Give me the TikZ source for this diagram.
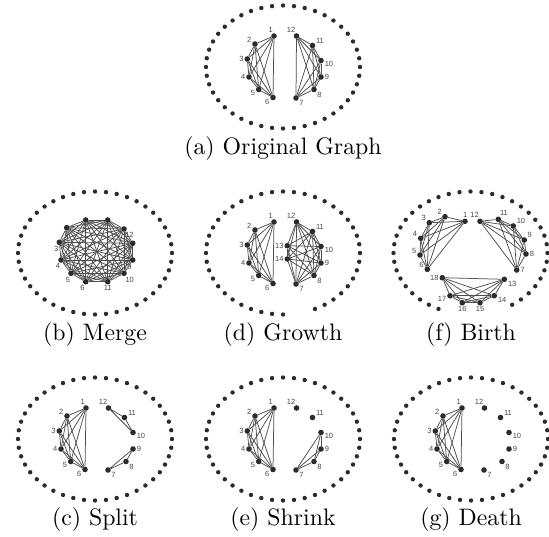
\documentclass[tikz,border=0pt]{standalone}
\usepackage{fontspec}
\usepackage{graphicx}
\newfontfamily\lblfont{Liberation Sans}
\pgfdeclarelayer{lbls}
\pgfdeclarelayer{edges}
\pgfsetlayers{lbls,edges,main}
\definecolor{dotc}{HTML}{2B2B2B}
\definecolor{edgec}{HTML}{4E4E4E}
\definecolor{lblc}{HTML}{474747}

\tikzset{
  vtx/.style={circle, fill=dotc, inner sep=0pt, minimum size=5.6pt},
  ghost/.style={circle, inner sep=0pt, minimum size=5.6pt},
  lbl/.style={font=\fontsize{7.5}{8}\lblfont, text=lblc, inner sep=0.6pt},
  edge/.style={draw=edgec, line width=0.75pt},
  captxt/.style={anchor=base, inner sep=0pt}
}

% ring of background points around one panel: centre x, centre y, indices kept
\newcommand\dotring[3]{%
  \foreach \k in {#3}{%
    \fill[dotc] ({#1+77*cos(90+\k*360/44)},{#2+61.5*sin(90+\k*360/44)}) circle (2.2pt);}}

% vertices of one panel: name prefix, list of label/x/y/label angle
\newcommand\vertices[2]{%
  \edef\vlist{#2}%
  \foreach \n/\x/\y/\a in \vlist {%
    \node[vtx] (#1\n) at (\x,\y) {};
    \begin{pgfonlayer}{lbls}
      \node[ghost, label={[lbl]\a:\n}] at (\x,\y) {};
    \end{pgfonlayer}}}

% complete graph on vertices #2..#4 of prefix #1 (#3 = #4-1)
\newcommand\cliq[4]{%
  \begin{pgfonlayer}{edges}
  \foreach \i in {#2,...,#3}{%
    \pgfmathtruncatemacro\nx{\i+1}%
    \foreach \j in {\nx,...,#4}{\draw[edge] (#1\i) -- (#1\j);}}
  \end{pgfonlayer}}

\newcommand\leftside{1/-9/-31/100, 2/-28/-23/166, 3/-35.7/-8/180, 4/-34/10/180,
  5/-24.3/22.5/187, 6/-10/30.5/195}
\newcommand\rightside{12/13.5/-31/97, 11/29.5/-21.5/20, 10/38/-6.5/355, 9/38/10/0,
  8/31/22.5/-35, 7/13/31/-30}

\begin{document}
\begin{tikzpicture}[x=1pt, y=-1pt]
\useasboundingbox (0,0) rectangle (549,536);

% (a) original graph
\dotring{283}{67}{0,...,43}
\begin{scope}[shift={(283,67)}]
  \vertices{a}{\leftside}
  \vertices{a}{\rightside}
  \cliq{a}{1}{5}{6}
  \cliq{a}{7}{11}{12}
\end{scope}
\node[captxt] (capa) at (283,154) {\scalebox{2.38}{(a) Original Graph}};

% (b) merge
\dotring{95}{253}{0,...,43}
\begin{scope}[shift={(95,253)}]
  \vertices{b}{2/-9.3/-33/-90, 7/12.7/-33/-90, 12/29/-24/-80, 8/37.7/-9.7/-95,
    9/37.7/7/-95, 10/29/20.3/-75, 11/12.7/28.7/-90, 6/-9.3/28.7/-95,
    5/-24/20.3/-95, 4/-34/7/-95, 3/-35.7/-10.7/-95, 1/-28.3/-25.3/-90}
  \cliq{b}{1}{11}{12}
\end{scope}
\node[captxt] (capb) at (95,340) {\scalebox{2.38}{(b) Merge}};

% (d) growth
\dotring{283}{253}{0,...,41}
\begin{scope}[shift={(283,253)}]
  \vertices{d}{\leftside}
  \vertices{d}{\rightside}
  \vertices{d}{13/4.3/-7.3/180, 14/4.3/6/180}
  \cliq{d}{1}{5}{6}
  \cliq{d}{7}{13}{14}
\end{scope}
\node[captxt] (capd) at (283,340) {\scalebox{2.38}{(d) Growth}};

% (f) birth
\dotring{470.5}{253}{3,...,40}
\begin{scope}[shift={(470.5,253)}]
  \vertices{f}{1/-5.5/-31.7/88, 2/-25.5/-36.3/145, 3/-41.2/-30.3/150,
    4/-49.8/-14.7/160, 5/-50.5/2/165, 6/-43.2/16.3/170,
    12/9.5/-31.7/100, 11/27.8/-33.7/70, 10/42.8/-27/25, 9/53.8/-13/30,
    8/55.5/1/0, 7/46.2/17/0,
    18/-28.2/24.7/180, 13/33.8/26.3/-15, 17/-20.5/42.7/185,
    16/-8.2/49.7/-90, 15/9.5/49.7/-90, 14/23.8/42.7/-15}
  \cliq{f}{1}{5}{6}
  \cliq{f}{7}{11}{12}
  \cliq{f}{13}{17}{18}
\end{scope}
\node[captxt] (capf) at (471,340) {\scalebox{2.38}{(f) Birth}};

% (c) split
\dotring{95}{439}{0,...,43}
\begin{scope}[shift={(95,439)}]
  \vertices{c}{\leftside}
  \vertices{c}{\rightside}
  \cliq{c}{1}{5}{6}
  \begin{pgfonlayer}{edges}
    \draw[edge] (c10) -- (c11) -- (c12) -- (c10);
    \draw[edge] (c7) -- (c8) -- (c9) -- (c7);
  \end{pgfonlayer}
\end{scope}
\node[captxt] (capc) at (95,525) {\scalebox{2.38}{(c) Split}};

% (e) shrink
\dotring{283}{439}{0,...,43}
\begin{scope}[shift={(283,439)}]
  \vertices{e}{\leftside}
  \vertices{e}{\rightside}
  \cliq{e}{1}{5}{6}
  \cliq{e}{7}{9}{10}
\end{scope}
\node[captxt] (cape) at (283,525) {\scalebox{2.38}{(e) Shrink}};

% (g) death
\dotring{471}{439}{0,...,43}
\begin{scope}[shift={(471,439)}]
  \vertices{g}{\leftside}
  \vertices{g}{\rightside}
  \cliq{g}{1}{5}{6}
\end{scope}
\node[captxt] (capg) at (471,525) {\scalebox{2.38}{(g) Death}};
\end{tikzpicture}
\end{document}
